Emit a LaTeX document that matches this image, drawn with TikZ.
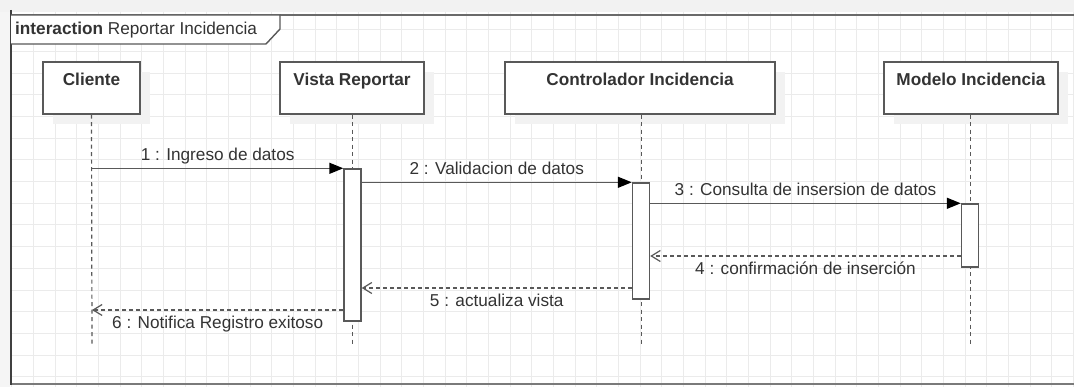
\documentclass[tikz,border=0pt]{standalone}
\usepackage{fontspec}
\setmainfont{Liberation Sans}
\usetikzlibrary{arrows.meta,shadows}
\definecolor{linegray}{HTML}{595959}
\definecolor{textgray}{HTML}{333333}
\definecolor{gridgray}{HTML}{EBEBEB}

\begin{document}
\begin{tikzpicture}[x=1pt,y=-1pt,
  head/.style={draw=linegray,line width=1.4pt,fill=white,inner sep=0pt,
    text height=24pt,text depth=28pt,minimum height=52pt,
    font=\fontsize{17.2}{19}\selectfont\bfseries,text=textgray,
    drop shadow={shadow xshift=10pt,shadow yshift=-10pt,fill=black!5,opacity=1}},
  bar/.style={draw=linegray,line width=1.4pt,fill=white,minimum width=17pt,inner sep=0pt},
  lifeline/.style={draw=linegray,line width=1.2pt,dash pattern=on 4pt off 3.5pt},
  call/.style={draw=linegray,line width=1.4pt,
    -{Triangle[length=14pt,width=11pt,color=black,fill=black]}},
  reply/.style={draw=linegray,line width=1.2pt,dash pattern=on 4pt off 3pt,
    -{Straight Barb[length=9pt,width=11pt]}},
  msg/.style={font=\fontsize{17.2}{19}\selectfont,text=textgray,inner sep=0pt,anchor=base}]
\useasboundingbox (0,0) rectangle (1074,387);
% background and grid
\fill[white] (0,0) rectangle (1074,387);
\fill[black!5] (0,0) rectangle (1074,12);
\fill[black!4] (0,12) rectangle (10,387);
\foreach \i in {0,...,49}
  \draw[gridgray,line width=1pt] ({11.7+21.67*\i},12) -- ({11.7+21.67*\i},387);
\foreach \j in {1,...,17}
  \draw[gridgray,line width=1pt] (10,{8.3+21.67*\j}) -- (1074,{8.3+21.67*\j});
% frame
\draw[linegray!90,line width=1.5pt] (10,15) -- (1074,15);
\draw[linegray!80,line width=2pt] (10,384) -- (1074,384);
\draw[black!75,line width=2.5pt] (11,10) -- (11,385);
\draw[linegray,line width=1.4pt,fill=white] (11,15) -- (280,15) -- (280,29) -- (266,44) -- (11,44);
\node[msg,anchor=base west] (frame-title) at (15,35)
  {\textbf{interaction} Reportar Incidencia};
% lifeline heads
\node[head,minimum width=97pt] (cliente) at (91.5,88) {Cliente};
\node[head,minimum width=144pt] (vista) at (352,88) {Vista Reportar};
\node[head,minimum width=270pt] (control) at (640,88) {Controlador Incidencia};
\node[head,minimum width=174pt] (modelo) at (971,88) {Modelo Incidencia};
\coordinate (cliente-end) at (92,345);
\coordinate (vista-end) at (352.5,345);
\coordinate (control-end) at (641.5,345);
\coordinate (modelo-end) at (970.5,345);
\draw[lifeline] (cliente.south) -- (cliente-end);
\draw[lifeline] (vista.south -| vista-end) -- (vista-end);
\draw[lifeline] (control.south -| control-end) -- (control-end);
\draw[lifeline] (modelo.south -| modelo-end) -- (modelo-end);
% activations
\node[bar,minimum height=152pt] (act-vista) at (352.5,245) {};
\node[bar,minimum height=116pt] (act-control) at (641,241) {};
\node[bar,minimum height=63pt] (act-modelo) at (970,235.5) {};
% messages
\draw[call] (cliente-end |- act-vista.north) -- (act-vista.north west)
  node[msg,midway,yshift=8pt] {1 : Ingreso de datos};
\draw[call] (act-vista.east |- act-control.north) -- (act-control.north west)
  node[msg,midway,yshift=8pt] {2 : Validacion de datos};
\draw[call] (act-control.east |- act-modelo.north) -- (act-modelo.north west)
  node[msg,midway,yshift=8pt] {3 : Consulta de insersion de datos};
\draw[reply] (act-modelo.west |- 0,256) -- (act-control.east |- 0,256)
  node[msg,midway,yshift=-19pt] {4 : confirmación de inserción};
\draw[reply] (act-control.west |- 0,288) -- (act-vista.east |- 0,288)
  node[msg,midway,yshift=-19pt] {5 : actualiza vista};
\draw[reply] (act-vista.west |- 0,310) -- (cliente-end |- 0,310)
  node[msg,midway,yshift=-19pt] {6 : Notifica Registro exitoso};
\end{tikzpicture}
\end{document}
